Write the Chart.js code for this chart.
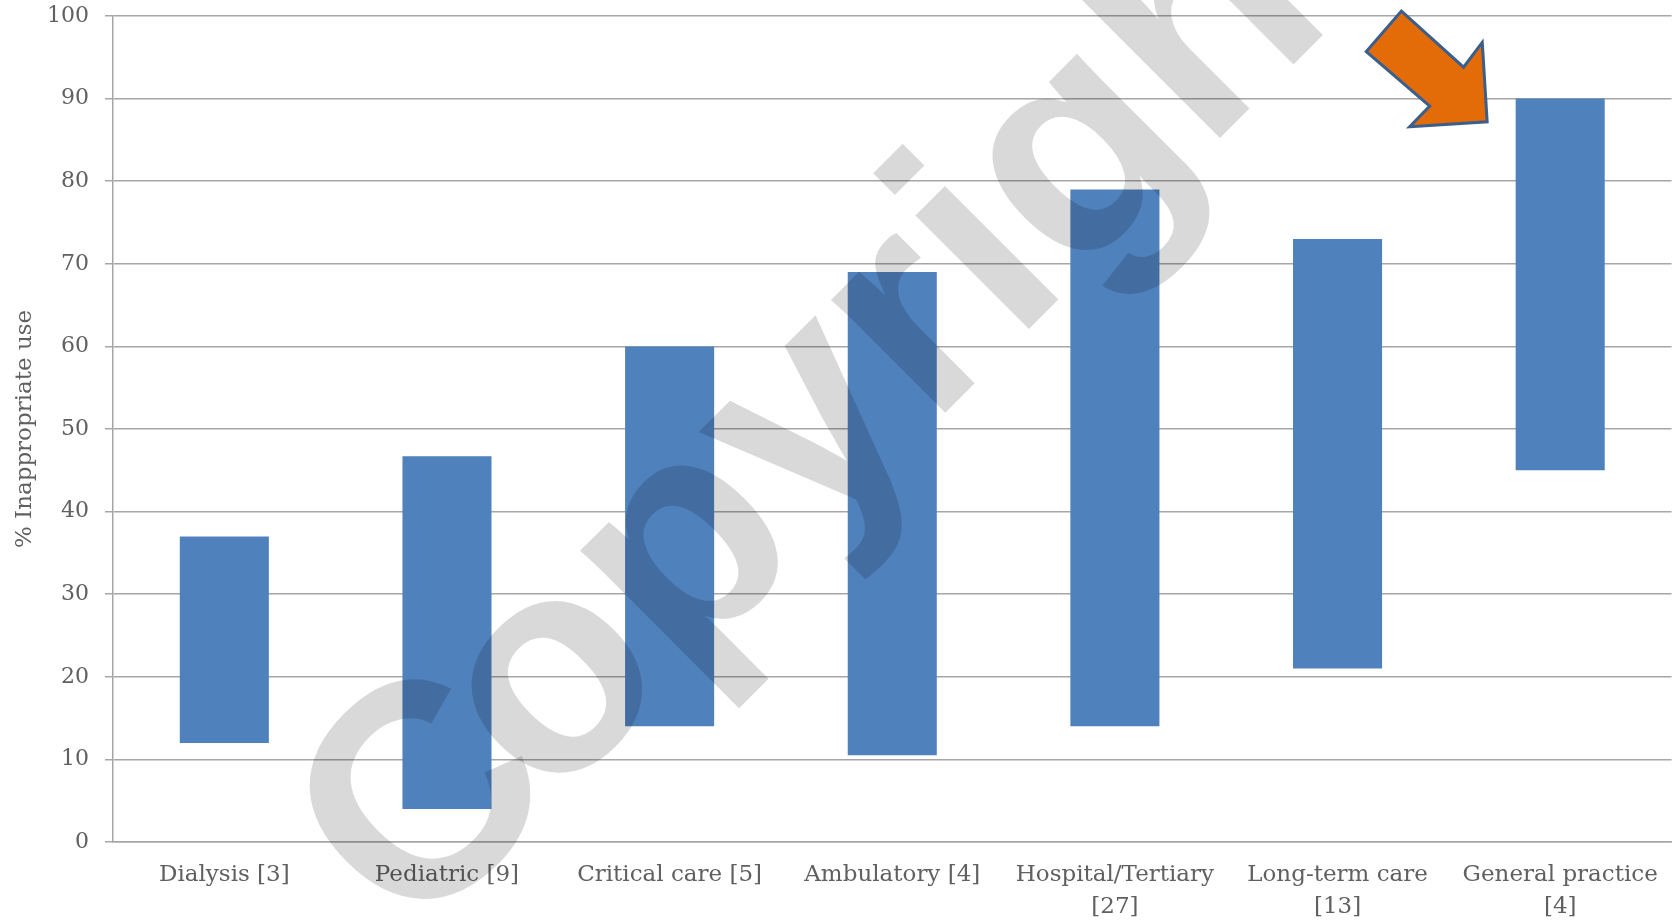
<!DOCTYPE html>
<html>
<head>
<meta charset="utf-8">
<script src="https://cdn.jsdelivr.net/npm/chart.js@4.4.1/dist/chart.umd.min.js"></script>
<style>
html,body{margin:0;padding:0;background:#ffffff;}
#wrap{width:1675px;height:920px;position:relative;}
</style>
</head>
<body>
<div id="wrap"><canvas id="c" width="1675" height="920"></canvas></div>
<script>
// ---- data ----
const categories = [
  ["Dialysis [3]"],
  ["Pediatric [9]"],
  ["Critical care [5]"],
  ["Ambulatory [4]"],
  ["Hospital/Tertiary", "[27]"],
  ["Long-term care", "[13]"],
  ["General practice", "[4]"]
];
const lowValues  = [12, 4, 14, 10.5, 14, 21, 45];
const highValues = [37, 46.7, 60, 69, 79, 73, 90];
const yTickValues = [0, 10, 20, 30, 40, 50, 60, 70, 80, 90, 100];
const yAxisTitle = "% Inappropriate use";
const watermarkHead = "C";
const watermarkTail = "opyright";

// annotation geometry in data space: [category index, value]
const watermarkAnchor = [0.757, -14.9];
const arrowPoints = [
  [5.287, 100.6], [5.129, 95.7], [5.414, 89.1], [5.324, 86.6],
  [5.672, 87.2], [5.650, 96.8], [5.566, 93.8]
];

const FONT = '"DejaVu Serif", "Liberation Serif", serif';
const TEXT = '#606060';
const GRID = '#a6a6a6';

const rangeData = lowValues.map((lo, i) => [lo, highValues[i]]);

const overlayPlugin = {
  id: 'overlay',
  afterDraw(chart) {
    const ctx = chart.ctx;
    const xs = chart.scales.x, ys = chart.scales.y;
    // watermark
    ctx.save();
    const wx = xs.getPixelForValue(watermarkAnchor[0]);
    const wy = ys.getPixelForValue(watermarkAnchor[1]);
    ctx.translate(wx, wy);
    ctx.rotate(-Math.PI / 4);
    ctx.font = 'bold 304px "Liberation Sans", Arial, sans-serif';
    ctx.textBaseline = 'alphabetic';
    ctx.textAlign = 'left';
    ctx.fillStyle = 'rgba(0,0,0,0.15)';
    const headW = ctx.measureText(watermarkHead).width;
    ctx.fillText(watermarkHead, 28, 0);
    ctx.fillText(watermarkTail, headW, 0);
    ctx.restore();
    // arrow
    ctx.save();
    ctx.beginPath();
    arrowPoints.forEach((p, i) => {
      const x = xs.getPixelForValue(p[0]);
      const y = ys.getPixelForValue(p[1]);
      if (i === 0) ctx.moveTo(x, y); else ctx.lineTo(x, y);
    });
    ctx.closePath();
    ctx.fillStyle = '#e36c09';
    ctx.fill();
    ctx.lineWidth = 3;
    ctx.lineJoin = 'miter';
    ctx.strokeStyle = '#3b5f8a';
    ctx.stroke();
    ctx.restore();
  }
};

new Chart(document.getElementById('c'), {
  type: 'bar',
  data: {
    labels: categories,
    datasets: [{
      data: rangeData,
      backgroundColor: '#4f81bd',
      borderWidth: 0,
      borderSkipped: false,
      barPercentage: 0.4,
      categoryPercentage: 1.0
    }]
  },
  options: {
    responsive: false,
    animation: false,
    devicePixelRatio: 1,
    layout: { padding: { top: 16, right: 3, left: 0, bottom: 0 } },
    plugins: { legend: { display: false }, tooltip: { enabled: false } },
    scales: {
      x: {
        grid: { display: false, drawTicks: false },
        border: { display: true, color: GRID, width: 1.5 },
        ticks: {
          color: TEXT,
          font: { family: FONT, size: 23, lineHeight: 1.4 },
          padding: 17,
          maxRotation: 0,
          minRotation: 0,
          autoSkip: false
        },
        afterFit(s) { s.height = 78; }
      },
      y: {
        min: 0,
        max: 100,
        afterBuildTicks(s) { s.ticks = yTickValues.map(v => ({ value: v })); },
        grid: { color: GRID, lineWidth: 1.5, tickLength: 8 },
        border: { display: true, color: GRID, width: 1.5 },
        ticks: {
          color: TEXT,
          font: { family: FONT, size: 22 },
          padding: 16
        },
        title: {
          display: true,
          text: yAxisTitle,
          color: TEXT,
          font: { family: FONT, size: 23 },
          padding: { top: 11, bottom: 0 }
        },
        afterFit(s) { s.width = 113; s.paddingTop = 0; s.paddingBottom = 0; }
      }
    }
  },
  plugins: [overlayPlugin]
});
</script>
</body>
</html>
